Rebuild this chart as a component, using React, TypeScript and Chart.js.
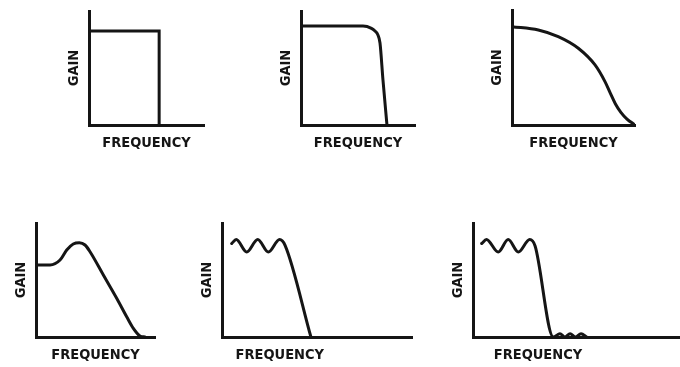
import React, { useEffect, useRef } from 'react';
import { Chart, registerables } from 'chart.js';

Chart.register(...registerables);

// ---- text ----
const xAxisTitle = 'FREQUENCY';
const yAxisTitle = 'GAIN';

// ---- data (frequency 0..100 along each axis, gain 0..100) ----
// 1. ideal brick-wall low-pass
const idealFreq = [0, 61, 61];
const idealGain = [82.5, 82.5, 0];
// 2. Butterworth-like
const butterFreq = [0, 40, 54.4, 61.8, 64.9, 67.3, 69.3, 71.9, 75.4];
const butterGain = [86.8, 86.8, 86.8, 84.8, 82.5, 79.4, 71.9, 39.5, 0];
// 3. Bessel-like gradual roll-off
const besselFreq = [0, 21.4, 37.6, 53.9, 67.5, 75.6, 80, 84, 88.5, 93.5, 100];
const besselGain = [85.5, 82.6, 76.8, 66.7, 52.2, 37.7, 27.5, 18.5, 11, 5.2, 0];
// 4. peaking response
const peakFreq = [0, 11.8, 20.2, 25.8, 31.3, 36.4, 41.2, 45.4, 56.6, 67.8, 76.2, 81.8, 87.4, 91.6];
const peakGain = [63.2, 63.2, 67.5, 76.3, 81.6, 82.7, 80.7, 74.8, 54.4, 34, 17.8, 7.6, 0.9, 0];
// 5. Chebyshev (passband ripple)
const chebyFreq = [5.1, 7.5, 13, 18.8, 24.4, 30.3, 33.2, 46.8];
const chebyGain = [82, 85.5, 74.5, 85.5, 74.5, 85.5, 80.4, 0];
// 6. elliptic (passband + stopband ripple)
const ellipFreq = [4.2, 6.5, 12.2, 17, 21.9, 27.4, 30, 38.8, 42, 44.4, 46.9, 49.5, 52.2, 54.9];
const ellipGain = [82, 85.5, 74.5, 85.5, 74.5, 85.5, 79.8, 0, 2.9, 0, 2.9, 0, 2.9, 0];

// ---- styling / layout ----
const INK = '#151515';
const FONT = {
  family: "'Liberation Sans Narrow', 'Arial Narrow', 'DejaVu Sans Condensed', sans-serif",
  size: 14.5,
  weight: 'bold' as const,
  lineHeight: 1.2,
};
const Y_PAD = { top: 0, bottom: 6 };
const X_PAD = { top: 9.6, bottom: 0 };
const Y_W = FONT.size * FONT.lineHeight + Y_PAD.top + Y_PAD.bottom;
const X_H = FONT.size * FONT.lineHeight + X_PAD.top + X_PAD.bottom;

type Mode = 'straight' | 'monotone' | 'spline';
type PanelCfg = {
  box: [number, number, number, number]; // canvas l,t,r,b
  area: [number, number, number, number]; // plot area l,t,r,b
  freq: number[];
  gain: number[];
  mode: Mode;
  align: 'center' | 'start';
  indent: string;
};

const panels: PanelCfg[] = [
  { box: [55, 0, 225, 170], area: [89, 11, 204, 125], freq: idealFreq, gain: idealGain, mode: 'straight', align: 'center', indent: '' },
  { box: [260, 0, 440, 170], area: [301, 11, 415, 125], freq: butterFreq, gain: butterGain, mode: 'monotone', align: 'center', indent: '' },
  { box: [470, 0, 660, 170], area: [512, 10, 635, 125], freq: besselFreq, gain: besselGain, mode: 'monotone', align: 'center', indent: '' },
  { box: [0, 200, 175, 367], area: [36, 223, 155, 337], freq: peakFreq, gain: peakGain, mode: 'monotone', align: 'center', indent: '' },
  { box: [185, 200, 430, 367], area: [222, 223, 412, 337], freq: chebyFreq, gain: chebyGain, mode: 'monotone', align: 'start', indent: '   ' },
  { box: [435, 200, 680, 367], area: [473, 223, 680, 337], freq: ellipFreq, gain: ellipGain, mode: 'monotone', align: 'start', indent: '    \u2009' },
];

function Panel({ cfg }: { cfg: PanelCfg }) {
  const ref = useRef<HTMLCanvasElement>(null);
  const [cl, ct, cr, cb] = cfg.box;
  useEffect(() => {
    const [L, T, R, B] = cfg.area;
    const chart = new Chart(ref.current as HTMLCanvasElement, {
      type: 'line',
      data: {
        datasets: [
          {
            data: cfg.freq.map((f, i) => ({ x: f, y: cfg.gain[i] })),
            borderColor: INK,
            borderWidth: 3,
            pointRadius: 0,
            fill: false,
            tension: cfg.mode === 'straight' ? 0 : 0.4,
            cubicInterpolationMode: cfg.mode === 'monotone' ? 'monotone' : 'default',
            borderCapStyle: 'round',
            borderJoinStyle: 'miter',
          } as any,
        ],
      },
      options: {
        responsive: false,
        animation: false,
        events: [],
        layout: {
          padding: { left: L - cl - Y_W, top: T - ct, right: cr - R, bottom: cb - B - X_H },
        },
        plugins: { legend: { display: false }, tooltip: { enabled: false } },
        scales: {
          x: {
            type: 'linear',
            min: 0,
            max: 100,
            ticks: { display: false },
            grid: { display: false, drawTicks: false },
            border: { display: true, color: INK, width: 3 },
            title: {
              display: true,
              text: cfg.indent + xAxisTitle,
              align: cfg.align,
              color: INK,
              font: FONT,
              padding: X_PAD,
            },
          },
          y: {
            type: 'linear',
            min: 0,
            max: 100,
            ticks: { display: false },
            grid: { display: false, drawTicks: false },
            border: { display: true, color: INK, width: 3 },
            title: { display: true, text: yAxisTitle, color: INK, font: FONT, padding: Y_PAD },
          },
        },
      },
    });
    return () => chart.destroy();
  }, [cfg]);
  return (
    <canvas
      ref={ref}
      width={cr - cl}
      height={cb - ct}
      style={{ position: 'absolute', left: cl, top: ct, width: cr - cl, height: cb - ct }}
    />
  );
}

export default function App() {
  return (
    <div style={{ position: 'fixed', left: 0, top: 0, width: 680, height: 367, background: '#fff', overflow: 'hidden' }}>
      {panels.map((p, i) => (
        <Panel key={i} cfg={p} />
      ))}
    </div>
  );
}
